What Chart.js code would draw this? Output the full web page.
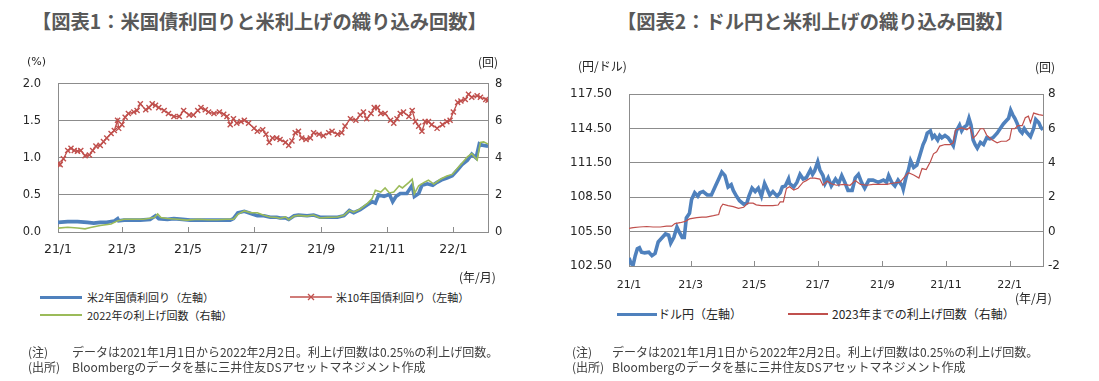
<!DOCTYPE html>
<html><head><meta charset="utf-8">
<script src="https://cdn.jsdelivr.net/npm/chart.js@4.4.0/dist/chart.umd.min.js"></script>
<style>
body{margin:0;width:1099px;height:381px;background:#fff;position:relative;overflow:hidden;font-family:"Noto Sans CJK JP","DejaVu Sans",sans-serif;color:#262626}
.t{position:absolute;white-space:nowrap}
.title{font-size:19.3px;line-height:19.5px;font-weight:bold;color:#595959}
.ax{font-size:11px;line-height:11px;font-family:"DejaVu Sans","Noto Sans CJK JP",sans-serif;color:#262626}
.ax2{font-size:12px;line-height:12px;color:#262626}
.lg{font-size:11px;line-height:11px;color:#262626}
.lg2{font-size:12px;line-height:12px;color:#262626}
.note{font-size:12px;line-height:12px;color:#404040}
.ln{position:absolute}
canvas{position:absolute}
</style></head><body>

<div class="t title" style="left:32px;top:12px">【図表1：米国債利回りと米利上げの織り込み回数】</div>
<div class="t title" style="left:617px;top:12px">【図表2：ドル円と米利上げの織り込み回数】</div>

<div id="w1" style="position:absolute;left:0;top:60px;width:540px;height:200px"><canvas id="c1"></canvas></div>
<div id="w2" style="position:absolute;left:560px;top:70px;width:539px;height:230px"><canvas id="c2"></canvas></div>

<div class="t ax" style="left:27px;top:56px">(%)</div>
<div class="t ax2" style="left:478px;top:56px">(回)</div>
<div class="t ax2" style="left:459px;top:271px">(年/月)</div>

<div class="t ax2" style="left:578px;top:60px">(円/ドル)</div>
<div class="t ax2" style="left:1035px;top:61px">(回)</div>
<div class="t ax2" style="left:1015px;top:292px">(年/月)</div>

<!-- legend 1 -->
<div class="ln" style="left:40px;top:295.5px;width:42px;height:3px;background:#4F81BD"></div>
<div class="t lg" style="left:87px;top:291.5px">米2年国債利回り（左軸）</div>
<svg class="ln" style="left:290px;top:292px" width="42" height="10"><line x1="0" y1="5" x2="42" y2="5" stroke="#C0504D" stroke-width="1.5"/><path d="M18 2 L24 8 M24 2 L18 8" stroke="#C0504D" stroke-width="1.3"/></svg>
<div class="t lg" style="left:336px;top:291.5px">米10年国債利回り（左軸）</div>
<div class="ln" style="left:40px;top:314px;width:42px;height:2px;background:#9BBB59"></div>
<div class="t lg" style="left:87px;top:309.5px">2022年の利上げ回数（右軸）</div>

<!-- legend 2 -->
<div class="ln" style="left:617px;top:312.5px;width:40px;height:3px;background:#4F81BD"></div>
<div class="t lg2" style="left:658px;top:308px">ドル円（左軸）</div>
<div class="ln" style="left:788px;top:313px;width:40px;height:2px;background:#C0504D"></div>
<div class="t lg2" style="left:832px;top:308px">2023年までの利上げ回数（右軸）</div>

<!-- notes -->
<div class="t note" style="left:28px;top:346px">(注)</div>
<div class="t note" style="left:72px;top:346px">データは2021年1月1日から2022年2月2日。利上げ回数は0.25%の利上げ回数。</div>
<div class="t note" style="left:28px;top:361px">(出所)</div>
<div class="t note" style="left:72px;top:361px">Bloombergのデータを基に三井住友DSアセットマネジメント作成</div>
<div class="t note" style="left:572px;top:346px">(注)</div>
<div class="t note" style="left:612px;top:346px">データは2021年1月1日から2022年2月2日。利上げ回数は0.25%の利上げ回数。</div>
<div class="t note" style="left:572px;top:361px">(出所)</div>
<div class="t note" style="left:612px;top:361px">Bloombergのデータを基に三井住友DSアセットマネジメント作成</div>

<script>
// ---- dates / ticks ----
const START = '2021-01-01';
const END = '2022-02-02';
const tickDates = ['2021-01-01','2021-03-01','2021-05-01','2021-07-01','2021-09-01','2021-11-01','2022-01-01'];
const tickLabels = ['21/1','21/3','21/5','21/7','21/9','21/11','22/1'];

// ---- chart 1: US yields (%) and hikes priced for 2022 (count) ; x = days since START ----
const us2yDays = [0,9,18,27,33,39,45,52,55,56,61,67,76,85,90,93,101,107,115,122,132,141,150,159,162,166,172,178,184,190,196,202,205,210,213,218,222,230,236,242,249,258,264,269,273,279,286,290,293,296,301,306,309,312,316,322,327,329,333,336,341,346,350,355,359,364,369,373,378,382,386,389,392,397];
const us2yVals = [0.13,0.14,0.14,0.13,0.12,0.13,0.13,0.15,0.18,0.15,0.16,0.16,0.16,0.17,0.22,0.18,0.17,0.18,0.17,0.16,0.16,0.16,0.16,0.16,0.18,0.26,0.28,0.25,0.22,0.22,0.20,0.20,0.19,0.19,0.17,0.22,0.23,0.22,0.23,0.20,0.20,0.20,0.22,0.29,0.26,0.30,0.37,0.41,0.39,0.50,0.48,0.51,0.41,0.48,0.52,0.52,0.63,0.48,0.52,0.63,0.65,0.63,0.67,0.71,0.73,0.76,0.84,0.91,0.97,1.05,1.00,1.19,1.17,1.16];

const us10yDays = [0,2,5,9,12,15,18,21,25,29,32,35,39,42,45,49,52,55,56,59,62,65,70,73,76,81,84,87,90,93,98,102,107,112,116,121,125,129,132,136,139,144,149,153,156,159,162,165,169,172,176,181,184,189,192,195,198,202,205,210,213,216,219,222,225,229,233,236,241,245,250,253,258,262,265,270,275,279,282,285,289,292,295,298,302,307,310,313,316,319,324,327,330,333,336,339,342,345,350,355,359,362,365,369,372,376,379,382,387,390,395,397];
const us10yVals = [0.92,0.91,0.99,1.10,1.13,1.10,1.09,1.10,1.03,1.04,1.10,1.16,1.17,1.22,1.27,1.33,1.37,1.51,1.40,1.45,1.55,1.60,1.62,1.64,1.73,1.65,1.68,1.73,1.71,1.68,1.64,1.60,1.56,1.56,1.64,1.58,1.58,1.64,1.68,1.65,1.62,1.60,1.62,1.59,1.56,1.45,1.53,1.47,1.49,1.51,1.47,1.40,1.36,1.38,1.32,1.21,1.27,1.27,1.25,1.21,1.17,1.23,1.34,1.36,1.27,1.25,1.27,1.34,1.32,1.30,1.34,1.36,1.32,1.34,1.43,1.53,1.51,1.58,1.62,1.53,1.60,1.68,1.68,1.60,1.60,1.51,1.47,1.53,1.60,1.62,1.56,1.64,1.49,1.43,1.36,1.49,1.49,1.45,1.40,1.45,1.49,1.51,1.62,1.75,1.77,1.79,1.86,1.82,1.84,1.82,1.79,1.78];

const hikes2022Days = [0,9,18,25,30,39,49,55,61,70,79,89,92,95,101,110,119,129,138,147,156,162,166,172,178,184,190,196,202,205,210,213,218,222,230,236,242,249,258,264,269,273,279,286,290,293,298,302,306,310,315,318,324,327,329,333,338,342,347,353,359,364,369,373,378,382,387,390,393,397];
const hikes2022Vals = [0.21,0.26,0.22,0.17,0.24,0.35,0.43,0.60,0.69,0.69,0.69,0.78,0.98,0.78,0.73,0.69,0.64,0.69,0.66,0.66,0.69,0.69,0.95,1.14,1.04,1.04,0.90,0.81,0.78,0.73,0.81,0.66,0.86,0.90,0.86,0.92,0.76,0.79,0.81,0.90,1.17,1.07,1.24,1.56,1.81,2.25,2.16,2.38,2.11,2.16,2.50,2.38,2.68,2.85,2.07,2.50,2.68,2.80,2.59,2.85,3.02,3.11,3.46,3.71,4.06,4.23,3.89,4.84,4.87,4.75];

// ---- chart 2: USD/JPY and hikes priced through 2023 ----
const usdjpyDays = [0,2,4,6,8,10,12,15,19,22,25,28,31,35,38,40,43,46,48,51,53,55,58,60,63,66,68,71,75,79,83,86,89,92,95,98,100,103,106,110,113,115,118,121,124,127,130,132,135,138,142,145,147,150,153,154,158,161,164,167,170,174,176,178,181,
  183,186,188,191,194,198,201,204,207,210,214,217,220,223,226,230,234,239,244,247,249,252,255,258,262,263,266,268,270,273,276,279,282,284,286,289,291,293,296,298,300,303,306,309,311,313,314,317,319,321,324,326,328,330,332,334,337,340,343,346,349,353,356,359,362,364,366,368,370,372,375,377,379,381,385,388,390,393,395,397];
const usdjpyVals = [103.2,102.7,102.6,103.4,104.0,104.1,103.7,103.65,103.7,103.4,103.6,104.6,104.9,105.3,105.2,104.5,105.0,105.9,105.5,105.0,105.0,106.7,107.1,108.3,108.9,108.6,108.9,109.0,108.7,108.7,109.5,110.1,110.7,110.4,109.4,109.6,109.1,108.6,108.2,107.9,108.0,108.6,109.3,109.0,109.3,108.6,109.7,109.3,108.7,109.0,108.6,108.9,109.4,109.5,110.1,109.7,109.4,109.8,110.5,110.1,110.2,110.9,110.5,110.8,111.6,
  110.9,110.4,109.7,110.2,109.5,110.1,109.7,110.4,109.8,109.1,109.1,110.2,110.5,109.8,109.3,110.0,110.0,109.8,110.0,109.8,110.4,109.8,109.5,110.0,109.5,109.2,110.4,110.9,111.7,111.1,111.3,112.2,113.1,113.5,114.1,114.3,113.7,113.9,113.5,113.9,113.7,113.9,113.7,113.3,113.0,113.9,114.3,114.8,114.3,114.6,114.8,115.4,114.8,113.5,113.1,112.8,113.3,113.1,113.7,113.6,113.7,114.1,114.5,114.9,115.2,115.4,116.1,115.7,115.4,115.0,114.3,114.1,114.5,114.2,113.8,114.5,115.3,115.0,114.6,114.4];

const hikes2023Days = [0,4,10,17,23,30,36,41,44,49,54,58,65,70,74,81,86,88,90,95,100,105,110,114,119,122,127,132,138,143,145,148,151,154,158,162,167,170,174,178,183,
  186,190,194,199,206,212,217,222,228,234,241,247,254,260,265,268,273,278,281,285,289,292,295,298,303,308,311,313,316,319,324,327,330,333,337,340,343,348,353,357,362,365,367,370,373,377,380,383,385,388,393,397];
const hikes2023Vals = [0.19,0.23,0.27,0.30,0.27,0.27,0.32,0.32,0.47,0.52,0.60,0.74,0.82,0.85,0.85,0.93,1.00,1.42,1.60,1.51,1.46,1.36,1.42,1.66,1.66,1.56,1.51,1.51,1.51,1.55,1.73,1.73,2.52,2.61,2.42,2.52,2.88,2.97,3.12,3.12,3.06,
  2.70,2.94,2.79,2.70,2.75,2.70,2.97,2.75,2.70,2.75,2.75,2.75,2.83,2.88,3.25,3.43,3.30,3.12,3.67,3.61,4.07,4.53,4.65,4.98,5.07,5.07,5.17,5.90,5.99,6.04,5.93,6.08,5.44,5.62,5.99,5.99,5.62,5.35,5.17,5.26,5.26,5.39,5.99,5.99,6.17,6.17,6.63,6.72,6.35,6.90,6.81,6.77];

// ---- helpers ----
const dayOf = d => Math.round((Date.parse(d) - Date.parse(START)) / 864e5);
const tickDays = tickDates.map(dayOf);
const xMax = dayOf(END);
const pts = (d, v) => d.map((x, i) => ({x, y: v[i]}));
const GRID = '#8c8c8c';
const TXT = '#262626';
const BLUE = '#4F81BD', RED = '#C0504D', GREEN = '#9BBB59';

Chart.defaults.font.family = '"DejaVu Sans", sans-serif';
Chart.defaults.color = TXT;
Chart.defaults.animation = false;

const innerTicks = {
  id: 'innerTicks',
  beforeDatasetsDraw(chart) {
    const x = chart.scales.x, a = chart.chartArea, ctx = chart.ctx;
    ctx.save(); ctx.strokeStyle = GRID; ctx.lineWidth = 1;
    x.ticks.forEach(t => {
      const px = Math.round(x.getPixelForValue(t.value)) + 0.5;
      ctx.beginPath(); ctx.moveTo(px, a.bottom); ctx.lineTo(px, a.bottom - 5); ctx.stroke();
    });
    ctx.restore();
  }
};

function xAxis(fs, pad, h) {
  return {
    type: 'linear', min: 0, max: xMax,
    afterBuildTicks: s => { s.ticks = tickDays.map(v => ({value: v})); },
    ticks: {callback: (v, i) => tickLabels[i], font: {size: fs}, padding: pad, maxRotation: 0, autoSkip: false, color: TXT},
    grid: {drawOnChartArea: false, drawTicks: false},
    border: {color: GRID, width: 1},
    afterFit: s => { s.height = h; }
  };
}

function yAxis(pos, min, max, step, dec, fs, pad, w, grid) {
  return {
    position: pos, min, max,
    ticks: {stepSize: step, callback: v => Number(v).toFixed(dec), font: {size: fs}, padding: pad, color: TXT},
    grid: grid ? {color: GRID, lineWidth: 1, drawTicks: false} : {drawOnChartArea: false, drawTicks: false},
    border: {color: GRID, width: 1},
    afterFit: s => { s.width = w; }
  };
}

const common = {
  responsive: true, maintainAspectRatio: false,
  plugins: {legend: {display: false}, tooltip: {enabled: false}},
  elements: {line: {tension: 0}},
  parsing: true
};

new Chart(document.getElementById('c1'), {
  type: 'line',
  data: {datasets: [
    {data: pts(hikes2022Days, hikes2022Vals), yAxisID: 'yR', borderColor: GREEN, borderWidth: 1.6, pointRadius: 0},
    {data: pts(us2yDays, us2yVals), yAxisID: 'y', borderColor: BLUE, borderWidth: 3.6, pointRadius: 0},
    {data: pts(us10yDays, us10yVals), yAxisID: 'y', borderColor: RED, borderWidth: 1.3, pointStyle: 'crossRot', pointRadius: 3.6, pointBorderWidth: 1.4, pointBorderColor: RED, pointBackgroundColor: RED}
  ]},
  options: Object.assign({}, common, {
    layout: {padding: {top: 17, left: 0, right: 0, bottom: 0}},
    scales: {
      x: xAxis(12.5, 10, 28),
      y: yAxis('left', 0, 2, 0.5, 1, 11.5, 17, 58, true),
      yR: yAxis('right', 0, 8, 2, 0, 11.5, 7, 52, false)
    }
  }),
  plugins: [innerTicks]
});

new Chart(document.getElementById('c2'), {
  type: 'line',
  data: {datasets: [
    {data: pts(hikes2023Days, hikes2023Vals), yAxisID: 'yR', borderColor: RED, borderWidth: 1.2, pointRadius: 0},
    {data: pts(usdjpyDays, usdjpyVals), yAxisID: 'y', borderColor: BLUE, borderWidth: 3.6, pointRadius: 0}
  ]},
  options: Object.assign({}, common, {
    layout: {padding: {top: 13, left: 0, right: 0, bottom: 0}},
    scales: {
      x: xAxis(11, 13, 34),
      y: yAxis('left', 102.5, 117.5, 3, 2, 12, 17, 69, true),
      yR: yAxis('right', -2, 8, 2, 0, 12, 5, 56, false)
    }
  }),
  plugins: [innerTicks]
});
</script>
</body></html>
